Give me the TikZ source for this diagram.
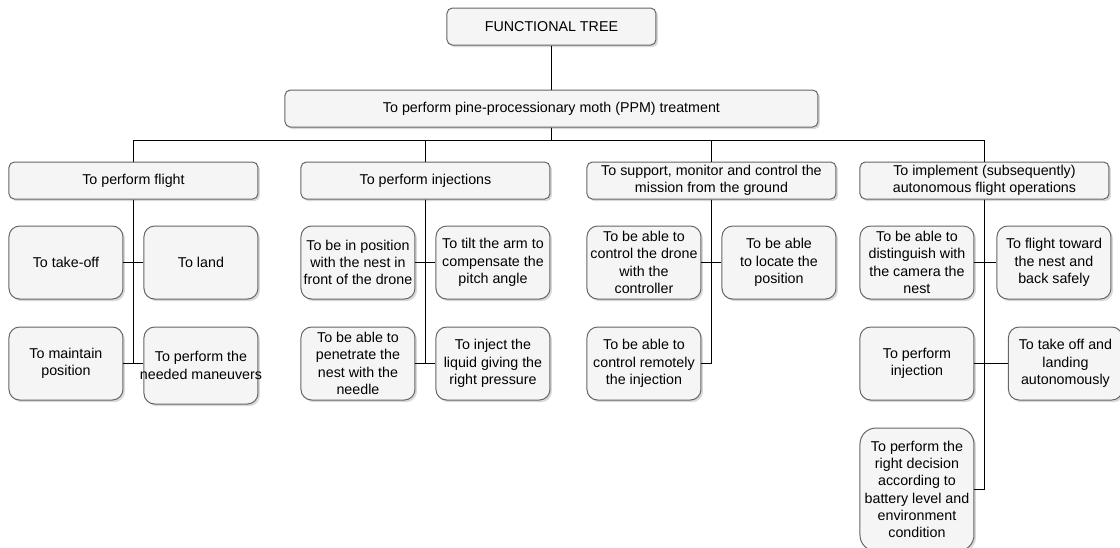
\documentclass[tikz,border=0pt]{standalone}
\usepackage{fontspec}
\setmainfont{Liberation Sans}
\usetikzlibrary{positioning,shadows}
\definecolor{boxFill}{HTML}{F5F5F5}
\definecolor{boxLine}{HTML}{666666}

\begin{document}
\begin{tikzpicture}[
    node distance=20.25pt and 21pt,
    box/.style={rectangle, rounded corners=4pt, draw=boxLine, line width=0.75pt, fill=boxFill, drop shadow={shadow xshift=1.5pt, shadow yshift=-1.6pt, opacity=0.3}, inner sep=1.5pt, align=center, font=\fontsize{10.7}{13}\selectfont},
    head/.style={box, minimum width=156.75pt, minimum height=27.75pt},
    goal/.style={box, minimum width=399.75pt, minimum height=27.75pt},
    func/.style={box, minimum width=186.75pt, minimum height=27.75pt},
    leaf/.style={box, rounded corners=8pt, minimum width=85.5pt, minimum height=54.75pt},
    wire/.style={draw=black, line width=0.75pt}
  ]
  \useasboundingbox (0,0) rectangle (840pt,-411pt);
  \node[head] (tree) at (413.6pt,-19.9pt) {FUNCTIONAL TREE};
  \node[goal, below=33pt of tree] (ppm) {To perform pine-processionary moth (PPM) treatment};
  \node[func] (flight) at (100.1pt,-135.4pt) {To perform flight};
  \node[func, right=31.5pt of flight] (inject) {To perform injections};
  \node[func, right=27pt of inject] (ground) {To support, monitor and control the\\mission from the ground};
  \node[func, right=17.25pt of ground] (auto) {To implement (subsequently)\\autonomous flight operations};
  \node[leaf, below=19.5pt of flight.south west, anchor=north west] (takeoff) {To take-off};
  \node[leaf, below=19.5pt of flight.south east, anchor=north east] (land) {To land};
  \node[leaf, below=of takeoff] (maintain) {To maintain\\position};
  \node[leaf, below=of land, minimum height=57.75pt] (maneuver) {To perform the\\\makebox[60pt]{needed maneuvers}};
  \node[leaf, below=19.5pt of inject.south west, anchor=north west] (nestpos) {To be in position\\with the nest in\\front of the drone};
  \node[leaf, below=19.5pt of inject.south east, anchor=north east] (tilt) {To tilt the arm to\\compensate the\\pitch angle};
  \node[leaf, below=of nestpos] (needle) {To be able to\\penetrate the\\nest with the\\needle};
  \node[leaf, below=of tilt] (liquid) {To inject the\\liquid giving the\\right pressure};
  \node[leaf, below=19.5pt of ground.south west, anchor=north west] (control) {To be able to\\control the drone\\with the\\controller};
  \node[leaf, below=19.5pt of ground.south east, anchor=north east] (locate) {To be able\\to locate the\\position};
  \node[leaf, below=of control] (remote) {To be able to\\control remotely\\the injection};
  \node[leaf, below=19.5pt of auto.south west, anchor=north west] (camera) {To be able to\\distinguish with\\the camera the\\nest};
  \node[leaf, below=19.5pt of auto.south east, anchor=north east, xshift=1.5pt] (toward) {To flight toward\\the nest and\\back safely};
  \node[leaf, below=of camera] (autoinj) {To perform\\injection};
  \node[leaf, below=of toward, xshift=8.6pt] (landing) {To take off and\\landing\\autonomously};
  \node[leaf, below=of autoinj, minimum height=92.25pt, rounded corners=12pt] (decision) {To perform the\\right decision\\according to\\battery level and\\environment\\condition};
  \draw[wire] (tree) -- (ppm);
  \draw[wire] (ppm.south) -- ++(0,-9.75pt) -| (flight.north);
  \draw[wire] (ppm.south) -- ++(0,-9.75pt) -| (inject.north);
  \draw[wire] (ppm.south) -- ++(0,-9.75pt) -| (ground.north);
  \draw[wire] (ppm.south) -- ++(0,-9.75pt) -| (auto.north);
  \draw[wire] (flight.south) |- (takeoff.east);
  \draw[wire] (flight.south) |- (land.west);
  \draw[wire] (flight.south) |- (maintain.east);
  \draw[wire] (maintain.east) -- (maintain.east -| maneuver.west);
  \draw[wire] (inject.south) |- (nestpos.east);
  \draw[wire] (inject.south) |- (tilt.west);
  \draw[wire] (inject.south) |- (needle.east);
  \draw[wire] (inject.south) |- (liquid.west);
  \draw[wire] (ground.south) |- (control.east);
  \draw[wire] (ground.south) |- (locate.west);
  \draw[wire] (ground.south) |- (remote.east);
  \draw[wire] (auto.south) |- (camera.east);
  \draw[wire] (auto.south) |- (toward.west);
  \draw[wire] (auto.south) |- (autoinj.east);
  \draw[wire] (auto.south) |- (landing.west);
  \draw[wire] (auto.south) |- (decision.east);
\end{tikzpicture}
\end{document}
